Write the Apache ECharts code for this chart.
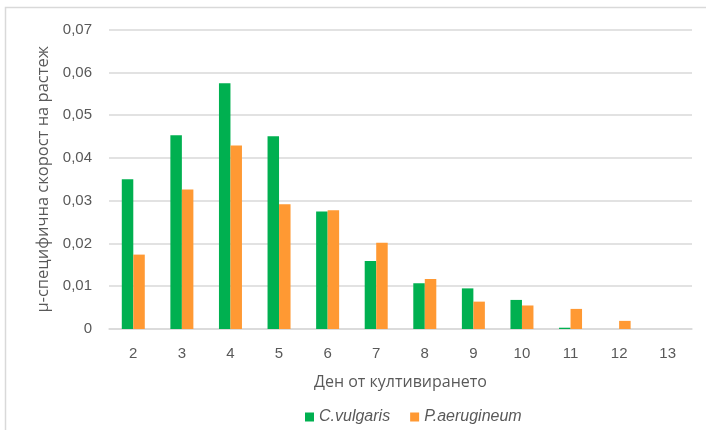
<!DOCTYPE html>
<html>
<head>
<meta charset="utf-8">
<script src="https://cdn.jsdelivr.net/npm/echarts@6/dist/echarts.min.js"></script>
<style>
  html, body { margin: 0; padding: 0; background: #fff; }
  #chart { width: 706px; height: 430px; }
</style>
</head>
<body>
<div id="chart"></div>
<script>
// Day of cultivation
const days = ['2', '3', '4', '5', '6', '7', '8', '9', '10', '11', '12', '13'];
// Specific growth rate µ per day
const vulgaris = [0.0350, 0.0453, 0.0575, 0.0451, 0.0275, 0.0159, 0.0107, 0.0095, 0.0068, 0.0003, 0, 0];
const aerugineum = [0.0174, 0.0326, 0.0429, 0.0292, 0.0278, 0.0202, 0.0117, 0.0064, 0.0055, 0.0047, 0.0019, 0];
const yTicks = { min: 0, max: 0.07, step: 0.01 };

const FONT = 'Liberation Sans';
const TITLE_FONT = 'Open Sans';
const TEXT = '#595959';
const LINE = '#d9d9d9';

const chart = echarts.init(document.getElementById('chart'), null, { renderer: 'canvas' });
chart.setOption({
  animation: false,
  backgroundColor: '#ffffff',
  textStyle: { fontFamily: FONT, color: TEXT },
  graphic: [{
    type: 'rect',
    shape: { x: 5.5, y: 7.5, width: 720, height: 440 },
    style: { fill: 'none', stroke: LINE, lineWidth: 1.5 },
    silent: true
  }],
  grid: { left: 109, right: 14, top: 29.7, bottom: 101, containLabel: false },
  legend: {
    bottom: 0,
    left: 300,
    itemWidth: 9,
    itemHeight: 9,
    itemGap: 20,
    icon: 'rect',
    textStyle: { fontFamily: FONT, fontSize: 16, fontStyle: 'italic', color: TEXT },
    data: ['C.vulgaris', 'P.aerugineum']
  },
  xAxis: {
    type: 'category',
    data: days,
    name: 'Ден от култивирането',
    nameLocation: 'middle',
    nameGap: 45,
    nameTextStyle: { fontFamily: TITLE_FONT, fontSize: 16, color: TEXT },
    axisLine: { lineStyle: { color: LINE, width: 1.5 } },
    axisTick: { show: false },
    axisLabel: { fontFamily: FONT, fontSize: 15, color: TEXT, margin: 17 }
  },
  yAxis: {
    type: 'value',
    min: yTicks.min,
    max: yTicks.max,
    interval: yTicks.step,
    name: 'µ-специфична скорост на растеж',
    nameLocation: 'middle',
    nameGap: 56,
    nameRotate: 90,
    nameTextStyle: { fontFamily: TITLE_FONT, fontSize: 16.5, color: TEXT },
    axisLine: { show: false },
    axisTick: { show: false },
    splitLine: { lineStyle: { color: LINE, width: 1.5 } },
    axisLabel: {
      fontFamily: FONT, fontSize: 15, color: TEXT, margin: 17,
      formatter: v => v === 0 ? '0' : v.toFixed(2).replace('.', ',')
    }
  },
  series: [
    {
      name: 'C.vulgaris',
      type: 'bar',
      data: vulgaris,
      barWidth: 11.5,
      barGap: '0%',
      itemStyle: { color: '#00b050' }
    },
    {
      name: 'P.aerugineum',
      type: 'bar',
      data: aerugineum,
      barWidth: 11.5,
      barGap: '0%',
      itemStyle: { color: '#ff9933' }
    }
  ]
});
</script>
</body>
</html>
